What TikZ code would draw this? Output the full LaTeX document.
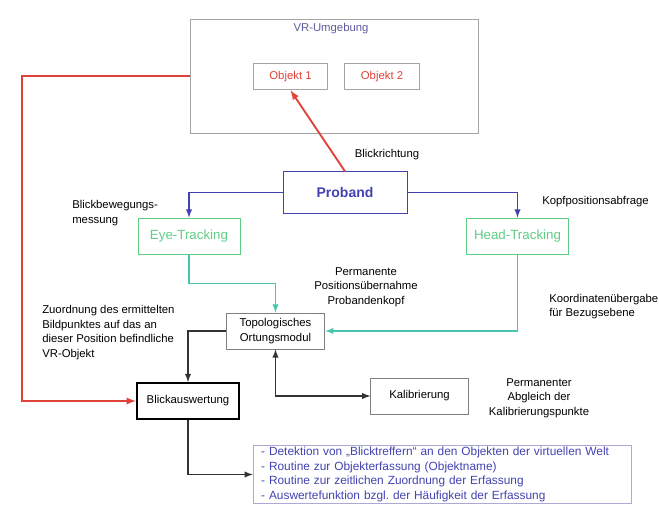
\documentclass[tikz,border=0pt]{standalone}
\usepackage{fontspec}
\setmainfont{Liberation Sans}
\usepackage{tikz}
\usetikzlibrary{arrows}

\definecolor{rot}{RGB}{222,66,56}
\definecolor{blau}{RGB}{66,66,178}
\definecolor{gruen}{RGB}{96,204,132}
\definecolor{tuerkis}{RGB}{72,196,172}
\definecolor{grau}{RGB}{165,165,165}
\definecolor{listrand}{RGB}{170,170,212}

\begin{document}
\frenchspacing
\begin{tikzpicture}[x=0.75pt,y=-0.75pt,
  kasten/.style={draw=grau,line width=0.7pt,inner sep=1pt,align=center,font=\fontsize{8.5}{11}\selectfont},
  txt/.style={inner sep=0pt,font=\fontsize{8.5}{11}\selectfont},
  pfeil/.style={line width=1.1pt,-latex}]
\useasboundingbox (0,0) rectangle (659,505);

\node[kasten,minimum width=216pt,minimum height=85.5pt] (vr) at (334,76) {};
\node[txt,text=blau!60!gray] (vrtitel) at (331,29) {VR-Umgebung};
\node[kasten,text=rot,minimum width=56pt,minimum height=20pt] (obj1) at (290.5,76.5) {Objekt 1};
\node[kasten,text=rot,minimum width=56pt,minimum height=20pt] (obj2) at (382,76.5) {Objekt 2};

\node[kasten,draw=blau,text=blau,minimum width=93pt,minimum height=31pt,font=\bfseries\fontsize{10.5}{12}\selectfont] (proband) at (345,192.5) {Proband};
\node[kasten,draw=gruen,text=gruen,minimum width=76.5pt,minimum height=27pt,font=\fontsize{10}{12}\selectfont] (eye) at (189,236) {Eye-Tracking};
\node[kasten,draw=gruen,text=gruen,minimum width=76.5pt,minimum height=27pt,font=\fontsize{10}{12}\selectfont] (head) at (517.5,236) {Head-Tracking};
\node[kasten,draw=gray,minimum width=74pt,minimum height=27pt] (topo) at (275.5,331) {Topologisches\\Ortungsmodul};
\node[kasten,draw=black,line width=1.5pt,minimum width=76.5pt,minimum height=27pt] (blick) at (188,401) {Blickauswertung};
\node[kasten,draw=gray,minimum width=73pt,minimum height=27pt] (kal) at (419.5,396) {Kalibrierung};
\node[kasten,draw=listrand,text=blau,minimum width=284pt,minimum height=44pt,inner xsep=6pt,text width=272pt,align=left,font=\fontsize{8.9}{10.9}\selectfont] (liste) at (442.5,474.5)
  {- Detektion von „Blicktreffern“ an den Objekten der virtuellen Welt\\
   - Routine zur Objekterfassung (Objektname)\\
   - Routine zur zeitlichen Zuordnung der Erfassung\\
   - Auswertefunktion bzgl. der Häufigkeit der Erfassung};

\node[txt] (lblrichtung) at (387,155) {Blickrichtung};
\node[txt,anchor=west,align=left] (lblmessung) at (72,213) {Blickbewegungs-\\messung};
\node[txt,anchor=west] (lblkopf) at (542,202) {Kopfpositionsabfrage};
\node[txt,align=center] (lblpos) at (366,287) {Permanente\\Positionsübernahme\\Probandenkopf};
\node[txt,anchor=west,align=left] (lblkoord) at (549,306.5) {Koordinatenübergabe\\für Bezugsebene};
\node[txt,anchor=west,align=left] (lblzuord) at (42,332.5) {Zuordnung des ermittelten\\Bildpunktes auf das an\\dieser Position befindliche\\VR-Objekt};
\node[txt,align=center] (lblabgleich) at (539,398) {Permanenter\\Abgleich der\\Kalibrierungspunkte};

\coordinate (ecke) at (22,76);
\draw[pfeil,rot,line width=1.4pt] (vr.west) -- (ecke) |- (blick.west);
\draw[pfeil,rot,line width=1.4pt] (proband.north) -- (obj1.south);
\draw[pfeil,blau] (proband.west) -| (eye.north);
\draw[pfeil,blau] (proband.east) -| (head.north);
\draw[pfeil,tuerkis] (eye.south) -- ++(0,29) -| (topo.north);
\draw[pfeil,tuerkis] (head.south) |- (topo.east);
\draw[pfeil,black!80] (topo.west) -| (blick.north);
\draw[pfeil,latex-latex,black!80] (topo.south) |- (kal.west);
\draw[pfeil,black!80] (blick.south) |- (liste.west);
\end{tikzpicture}
\end{document}
